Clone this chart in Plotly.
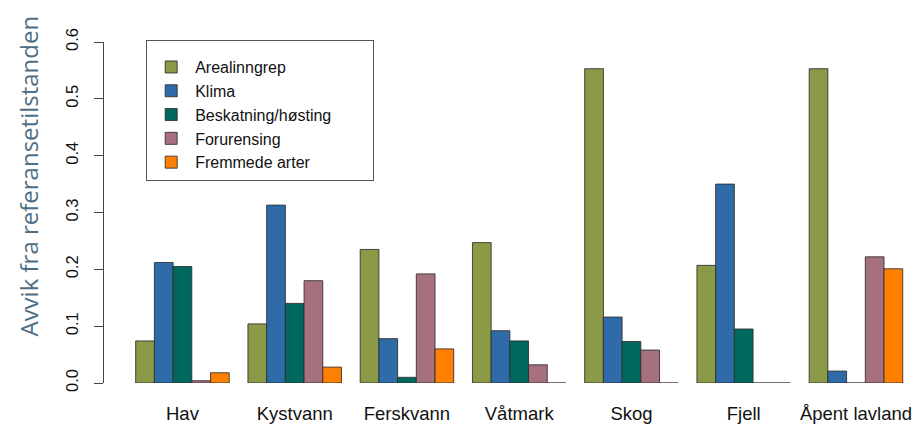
import plotly.graph_objects as go

categories = ["Hav", "Kystvann", "Ferskvann", "Våtmark", "Skog", "Fjell", "Åpent lavland"]
series_names = ["Arealinngrep", "Klima", "Beskatning/høsting", "Forurensing", "Fremmede arter"]
arealinngrep = [0.074, 0.104, 0.235, 0.247, 0.553, 0.207, 0.553]
klima = [0.212, 0.313, 0.078, 0.092, 0.116, 0.350, 0.021]
beskatning = [0.205, 0.140, 0.010, 0.074, 0.073, 0.095, 0.0]
forurensing = [0.004, 0.180, 0.192, 0.032, 0.058, 0.0, 0.222]
fremmede = [0.018, 0.028, 0.060, 0.0, 0.0, 0.0, 0.201]
colors = ["#8A9A46", "#2E6BA8", "#00695E", "#A6707F", "#FF7F00"]
y_ticks = [0.0, 0.1, 0.2, 0.3, 0.4, 0.5, 0.6]

values = [arealinngrep, klima, beskatning, forurensing, fremmede]

fig = go.Figure()
for name, vals, col in zip(series_names, values, colors):
    fig.add_trace(go.Bar(
        x=categories, y=vals, name=name,
        marker=dict(color=col, line=dict(color="rgba(45,45,45,0.85)", width=1)),
    ))

fig.update_layout(
    template="none",
    width=913, height=416,
    margin=dict(l=96, r=6, t=34, b=41, autoexpand=False),
    paper_bgcolor="white", plot_bgcolor="white",
    barmode="group", bargap=1/6, bargroupgap=0,
    font=dict(family="Liberation Sans, Arial, sans-serif", color="#111111"),
    showlegend=True,
    legend=dict(
        x=0.052, y=1.006, xanchor="left", yanchor="top",
        bordercolor="#555555", borderwidth=1, bgcolor="white",
        font=dict(size=16, color="#111111"),
        tracegroupgap=0, itemwidth=38,
        title=dict(text="\u00a0" * 114, font=dict(size=7)),
    ),
    xaxis=dict(
        range=[-0.699, 6.526], automargin=False,
        showline=False, showgrid=False, zeroline=False,
        ticks="", tickfont=dict(size=18.5, color="#111111"),
        ticklabelstandoff=17,
    ),
    yaxis=dict(
        range=[0, 0.6], automargin=False,
        tickvals=y_ticks, ticktext=[f"{v:.1f}" for v in y_ticks],
        tickangle=-90,
        showline=True, linecolor="#444444", linewidth=1,
        ticks="outside", ticklen=9, tickcolor="#444444", tickwidth=1,
        showgrid=False, zeroline=False,
        tickfont=dict(size=16.5, color="#111111"),
        ticklabelstandoff=9,
    ),
    annotations=[dict(
        text="Avvik fra referansetilstanden",
        xref="paper", yref="paper", x=-0.1171, y=0.607,
        xanchor="left", yanchor="middle", textangle=-90, showarrow=False,
        font=dict(family="Open Sans, Noto Sans, sans-serif", size=24, color="#4E6E84"),
    )],
)

fig.write_html("out.html")
